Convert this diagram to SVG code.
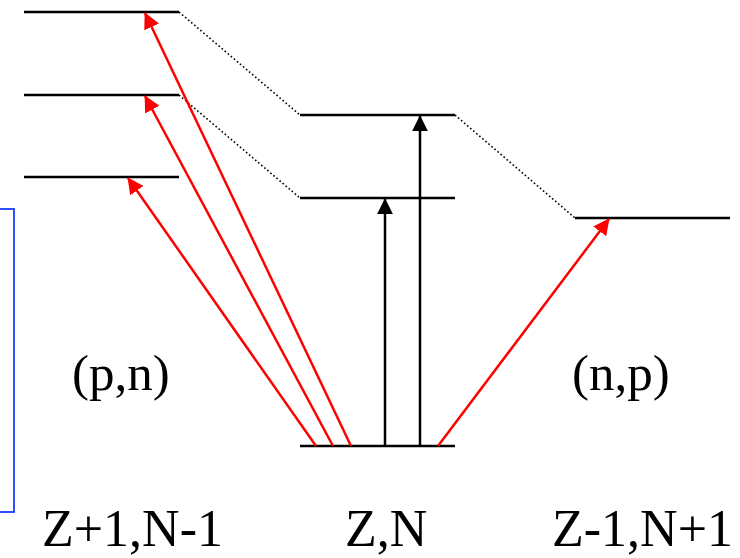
<svg xmlns="http://www.w3.org/2000/svg" width="740" height="558" viewBox="0 0 740 558">
<style>
.lvl{stroke:#000;stroke-width:2.5;fill:none}
.dot{stroke:#000;stroke-width:1.6;stroke-dasharray:1.6 2.4;fill:none}
.red{stroke:#f00;stroke-width:2.5;fill:none;marker-end:url(#ar)}
.blk{stroke:#000;stroke-width:2.5;fill:none;marker-end:url(#ab)}
.t{font-family:"Liberation Serif","Times New Roman",serif;fill:#000}
</style>
<defs>
<marker id="ar" viewBox="0 0 10 10" refX="9.5" refY="5" markerWidth="6.5" markerHeight="6.5" markerUnits="strokeWidth" orient="auto"><path d="M0,0L10,5L0,10z" fill="#f00"/></marker>
<marker id="ab" viewBox="0 0 10 10" refX="9.5" refY="5" markerWidth="6.5" markerHeight="6.5" markerUnits="strokeWidth" orient="auto"><path d="M0,0L10,5L0,10z" fill="#000"/></marker>
</defs>
<rect id="box" x="-10" y="209" width="24" height="303" fill="none" stroke="#1a3cff" stroke-width="1.8"/>
<g id="levels">
<line class="lvl" x1="24" y1="12" x2="179" y2="12"/>
<line class="lvl" x1="24" y1="95" x2="179" y2="95"/>
<line class="lvl" x1="24" y1="177" x2="179" y2="177"/>
<line class="lvl" x1="300" y1="115" x2="455" y2="115"/>
<line class="lvl" x1="300" y1="198" x2="455" y2="198"/>
<line class="lvl" x1="300" y1="446" x2="455" y2="446"/>
<line class="lvl" x1="575" y1="218" x2="730" y2="218"/>
</g>
<g id="connectors">
<line class="dot" x1="179" y1="12" x2="300" y2="115"/>
<line class="dot" x1="179" y1="95" x2="300" y2="198"/>
<line class="dot" x1="455" y1="115" x2="575" y2="218"/>
<line class="red" x1="351" y1="446" x2="145" y2="13"/>
<line class="red" x1="333" y1="446" x2="145" y2="96"/>
<line class="red" x1="316" y1="446" x2="128" y2="178"/>
<line class="red" x1="438" y1="446" x2="609" y2="219"/>
<line class="blk" x1="385" y1="446" x2="385" y2="199"/>
<line class="blk" x1="420" y1="446" x2="420" y2="116"/>
</g>
<g id="labels">
<text class="t" x="72" y="390" font-size="51">(p,n)</text>
<text class="t" x="572" y="390" font-size="51">(n,p)</text>
<text class="t" x="42" y="546" font-size="52">Z+1,N-1</text>
<text class="t" x="345" y="546" font-size="52">Z,N</text>
<text class="t" x="552" y="546" font-size="52">Z-1,N+1</text>
</g>
</svg>
